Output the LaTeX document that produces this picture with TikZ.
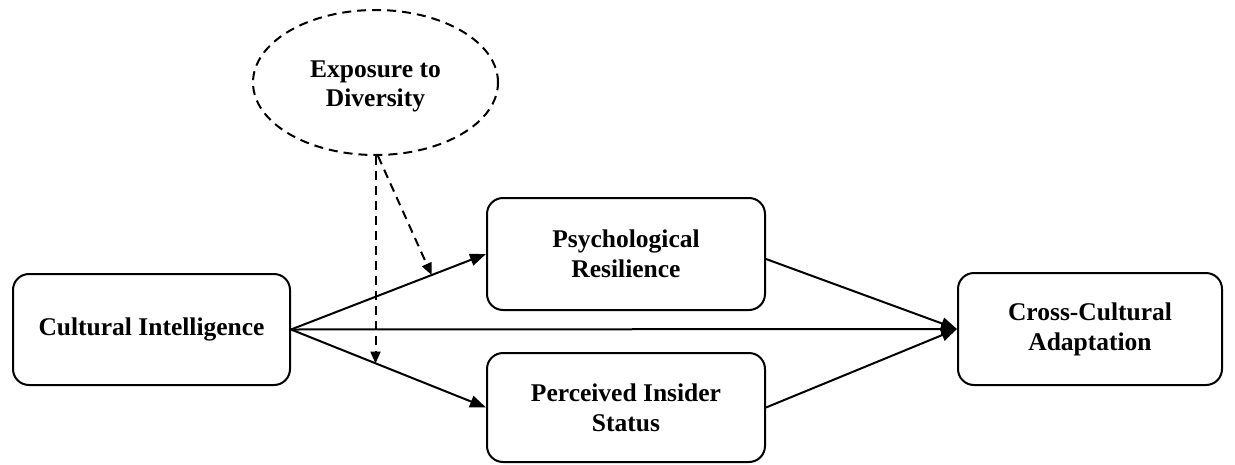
\documentclass[tikz,border=0pt]{standalone}
\usepackage{fontspec}
\setmainfont{Liberation Serif}
\usetikzlibrary{shapes.geometric,arrows.meta,calc}
\tikzset{
  box/.style={draw, line width=2pt, rounded corners=16pt, align=center, inner sep=0pt,
    font=\bfseries\fontsize{25.5}{30}\selectfont},
  modbox/.style={draw, ellipse, dash pattern=on 9pt off 6pt, line width=2pt, align=center, inner sep=0pt},
  modtext/.style={align=center, inner sep=0pt, font=\bfseries\fontsize{25.5}{29}\selectfont},
  path/.style={line width=2pt, -{Triangle[length=16pt,width=12pt]}},
  modpath/.style={line width=2pt, dash pattern=on 9pt off 6pt, -{Triangle[length=12pt,width=10pt]}}
}
\begin{document}
\begin{tikzpicture}[x=1pt,y=-1pt]
\useasboundingbox (0,0) rectangle (1235,464);
\node[box, minimum width=277pt, minimum height=111pt] (CI) at (151.5,329.5) {Cultural Intelligence};
\node[box, minimum width=278pt, minimum height=112pt] (PR) at (626,254) {Psychological\\Resilience};
\node[box, minimum width=278pt, minimum height=109pt] (PIS) at (626,407.5) {Perceived Insider\\Status};
\node[box, minimum width=264pt, minimum height=112pt] (CCA) at (1090,329) {Cross-Cultural\\Adaptation};
\node[modbox, minimum width=245pt, minimum height=145pt] (E) at (375.5,82.5) {};
\node[modtext] (Et) at (375.5,86) {Exposure to\\Diversity};
\draw[path] (CI.east) -- (PR.west);
\draw[path] (CI.east) -- (PIS.west);
\draw[path] (CI.east) -- (CCA.west);
\draw[path] ([yshift=-5pt]PR.east) -- (CCA.west);
\draw[path] (PIS.east) -- (CCA.west);
\coordinate (m1) at ($(CI.east)!0.4365!(PIS.west)$);
\coordinate (m2) at ($(CI.east)!0.721!(PR.west)$);
\draw[modpath] (E.south) -- (E.south |- m1);
\draw[modpath] ([xshift=2.5pt]E.south) -- (m2);
\end{tikzpicture}
\end{document}
